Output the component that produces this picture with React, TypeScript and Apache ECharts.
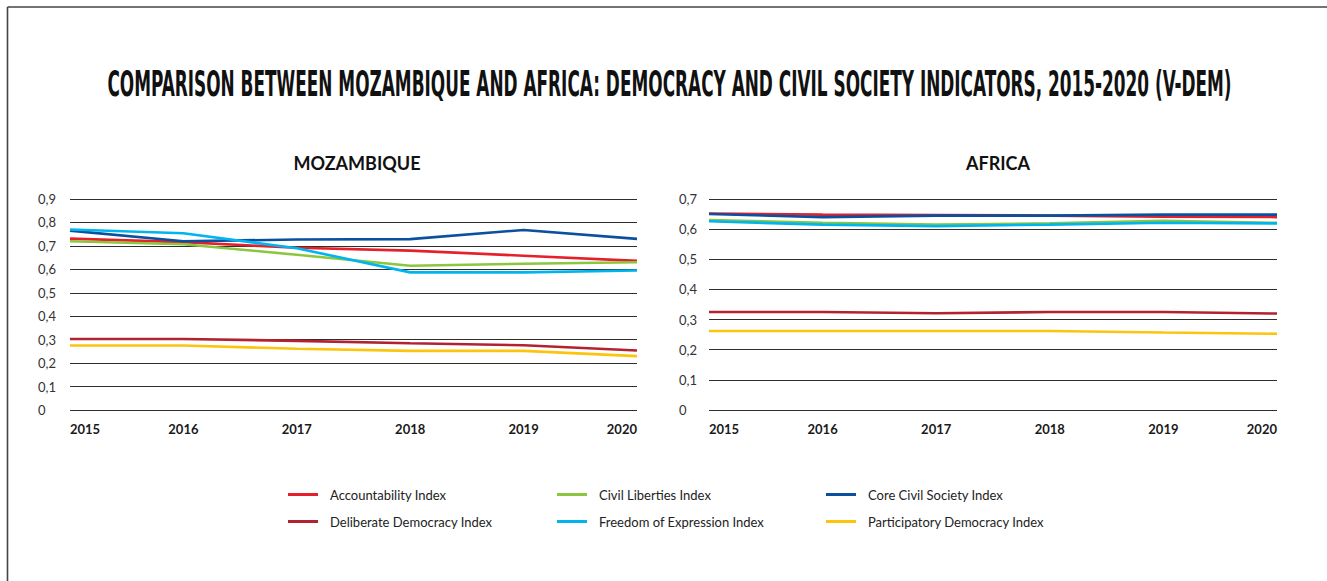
import React, { useEffect, useRef } from "react";
import * as echarts from "echarts";

const years = ["2015", "2016", "2017", "2018", "2019", "2020"];
const indexNames = [
  "Accountability Index",
  "Civil Liberties Index",
  "Core Civil Society Index",
  "Deliberate Democracy Index",
  "Freedom of Expression Index",
  "Participatory Democracy Index",
];
const indexColors = ["#e5202b", "#8cc63e", "#0b4f9f", "#b3222f", "#00b5ee", "#fcc40d"];

// Mozambique
const mozAccountability = [0.731, 0.716, 0.692, 0.68, 0.658, 0.636];
const mozCivilLiberties = [0.72, 0.707, 0.662, 0.615, 0.624, 0.63];
const mozCoreCivilSociety = [0.765, 0.72, 0.727, 0.729, 0.768, 0.73];
const mozDeliberate = [0.303, 0.303, 0.295, 0.285, 0.276, 0.254];
const mozFreedomExpression = [0.77, 0.754, 0.69, 0.587, 0.587, 0.595];
const mozParticipatory = [0.275, 0.275, 0.261, 0.252, 0.252, 0.23];

// Africa
const afrAccountability = [0.652, 0.648, 0.647, 0.645, 0.641, 0.64];
const afrCivilLiberties = [0.63, 0.621, 0.615, 0.619, 0.628, 0.621];
const afrCoreCivilSociety = [0.65, 0.64, 0.645, 0.645, 0.648, 0.648];
const afrDeliberate = [0.325, 0.325, 0.321, 0.325, 0.325, 0.32];
const afrFreedomExpression = [0.626, 0.615, 0.61, 0.615, 0.621, 0.619];
const afrParticipatory = [0.262, 0.262, 0.262, 0.262, 0.257, 0.253];

const mozSeries = [mozAccountability, mozCivilLiberties, mozCoreCivilSociety, mozDeliberate, mozFreedomExpression, mozParticipatory];
const afrSeries = [afrAccountability, afrCivilLiberties, afrCoreCivilSociety, afrDeliberate, afrFreedomExpression, afrParticipatory];

const mainTitle = "COMPARISON BETWEEN MOZAMBIQUE AND AFRICA: DEMOCRACY AND CIVIL SOCIETY INDICATORS, 2015-2020 (V-DEM)";
const panelTitles = ["MOZAMBIQUE", "AFRICA"];
const mozYMax = 0.9;
const afrYMax = 0.7;

export default function App() {
  const ref = useRef<HTMLDivElement>(null);
  useEffect(() => {
    if (!ref.current) return;
    const chart = echarts.init(ref.current, null, { renderer: "svg" });

    const titleFont = 'bold 36px "DejaVu Sans Condensed", "DejaVu Sans", sans-serif';
    let titleScale = 0.58;
    try {
      const ctx = document.createElement("canvas").getContext("2d");
      if (ctx) {
        ctx.font = titleFont;
        const w = ctx.measureText(mainTitle).width;
        if (w > 0) titleScale = 1125 / w;
      }
    } catch (e) {}

    const yAxisCommon = (max: number, margin: number) => ({
      type: "value" as const,
      min: 0,
      max,
      interval: 0.1,
      axisLine: { show: false },
      axisTick: { show: false },
      splitLine: { lineStyle: { color: "#2e2e2e", width: 1.2 } },
      axisLabel: {
        align: "left",
        margin,
        color: "#333",
        fontSize: 13,
        fontFamily: "Lato",
        formatter: (v: number) => (Math.round(v * 10) / 10).toString().replace(".", ","),
      },
    });
    const xAxisCommon = (gi: number) => ({
      type: "category" as const,
      gridIndex: gi,
      data: years,
      boundaryGap: false,
      axisLine: { show: false },
      axisTick: { show: false },
      axisLabel: {
        margin: 12,
        color: "#1a1a1a",
        fontSize: 13,
        fontWeight: "bold",
        fontFamily: "Lato",
        alignMinLabel: "left",
        alignMaxLabel: "right",
      },
    });

    const series: any[] = [];
    [mozSeries, afrSeries].forEach((group, gi) => {
      group.forEach((data, i) => {
        series.push({
          type: "line",
          name: indexNames[i],
          xAxisIndex: gi,
          yAxisIndex: gi,
          data,
          showSymbol: false,
          symbol: "none",
          color: indexColors[i],
          lineStyle: { width: 2.6, color: indexColors[i] },
        });
      });
    });

    const legendCols = [283, 552, 821];
    const legendRows = [483, 510];
    const legends = indexNames.map((n, i) => ({
      data: [n],
      left: legendCols[i % 3],
      top: legendRows[Math.floor(i / 3)],
      icon: "rect",
      itemWidth: 30,
      itemHeight: 3,
      textStyle: { fontSize: 13, color: "#222", fontFamily: "Lato", padding: [0, 0, 0, 7] },
      selectedMode: false,
    }));

    chart.setOption({
      animation: false,
      backgroundColor: "#fff",
      title: [
        {
          text: panelTitles[0],
          left: 352,
          top: 149,
          textAlign: "center",
          textStyle: { fontSize: 18, fontWeight: "bold", color: "#111", fontFamily: "Lato" },
        },
        {
          text: panelTitles[1],
          left: 993,
          top: 149,
          textAlign: "center",
          textStyle: { fontSize: 18, fontWeight: "bold", color: "#111", fontFamily: "Lato" },
        },
      ],
      graphic: [
        { type: "line", shape: { x1: 7.5, y1: 7, x2: 1327, y2: 7 }, style: { stroke: "#444", lineWidth: 1.6 } },
        { type: "line", shape: { x1: 7.5, y1: 7, x2: 7.5, y2: 581 }, style: { stroke: "#444", lineWidth: 1.6 } },
        {
          type: "text",
          x: 669.5,
          y: 83,
          scaleX: titleScale,
          style: {
            text: mainTitle,
            font: titleFont,
            fill: "#111",
            textAlign: "center",
            textVerticalAlign: "middle",
          },
        },
      ],
      legend: legends,
      grid: [
        { left: 70, top: 199, width: 567, height: 211 },
        { left: 709, top: 199, width: 568, height: 211 },
      ],
      xAxis: [xAxisCommon(0), xAxisCommon(1)],
      yAxis: [
        { ...yAxisCommon(mozYMax, 32), gridIndex: 0 },
        { ...yAxisCommon(afrYMax, 30), gridIndex: 1 },
      ],
      series,
    });
    return () => chart.dispose();
  }, []);
  return <div ref={ref} style={{ position: "absolute", left: 0, top: 0, width: 1327, height: 581 }} />;
}
